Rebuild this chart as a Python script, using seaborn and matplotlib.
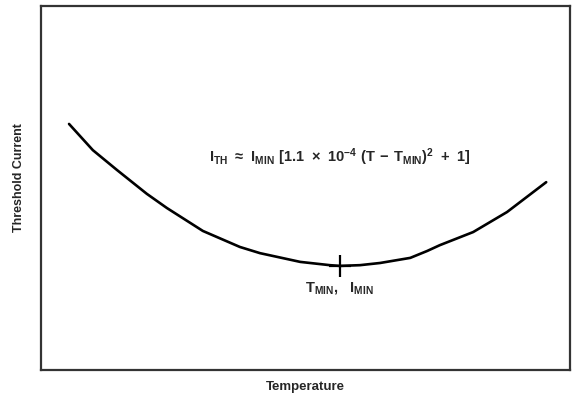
# Threshold current vs temperature - parabolic dependence around T_min
import matplotlib
matplotlib.use("Agg")
import matplotlib.pyplot as plt
import seaborn as sns
import pandas as pd

# curve (arbitrary units, axes run 0..100)
temperature = [5.3, 9.8, 14.4, 20.0, 23.8, 30.6, 37.6, 41.4, 49.0, 54.6, 56.5,
               60.3, 64.1, 69.8, 73.0, 75.4, 81.7, 88.1, 95.5]
threshold = [67.6, 60.4, 54.9, 48.4, 44.5, 38.2, 33.8, 32.1, 29.7, 28.8, 28.6,
             28.8, 29.4, 30.8, 32.7, 34.3, 37.9, 43.4, 51.6]
t_min = [56.5]
i_min = [28.6]

sns.set_style("white")
plt.rcParams['font.family'] = ['Liberation Sans', 'DejaVu Sans']
plt.rcParams['mathtext.fontset'] = 'custom'
plt.rcParams['mathtext.rm'] = 'Liberation Sans'
plt.rcParams['mathtext.bf'] = 'Liberation Sans:bold'

df = pd.DataFrame({'T': temperature, 'I': threshold})

fig = plt.figure(figsize=(5.75, 3.95), dpi=100)
ax = fig.add_axes([41 / 575, 25 / 395, 529 / 575, 364 / 395])

sns.lineplot(data=df, x='T', y='I', color='black', linewidth=1.9, ax=ax)
ax.plot(t_min, i_min, marker='+', markersize=16, markeredgewidth=1.6,
        color='black', linestyle='none')

ax.set_xlim(0, 100)
ax.set_ylim(0, 100)
ax.set_xticks([])
ax.set_yticks([])
for s in ax.spines.values():
    s.set_color('#333333')
    s.set_linewidth(1.6)

ax.set_xlabel('Temperature', fontsize=9.5, fontweight='bold', labelpad=8)
ax.set_ylabel('Threshold Current', fontsize=9, fontweight='bold')
ax.yaxis.set_label_coords(-0.03, 0.53)

ax.text(56.5, 58.5,
        r'$\mathbf{I_{TH}\ \approx\ I_{MIN}\ [1.1\ \times\ 10^{-4}\ (T\,-\,T_{MIN})^2\ +\ 1]}$',
        fontsize=10.5, ha='center', va='center')
ax.text(56.5, 22.5, r'$\mathbf{T_{MIN},\ \ I_{MIN}}$', fontsize=10.5,
        ha='center', va='center')

fig.savefig('out.png', dpi=100)
